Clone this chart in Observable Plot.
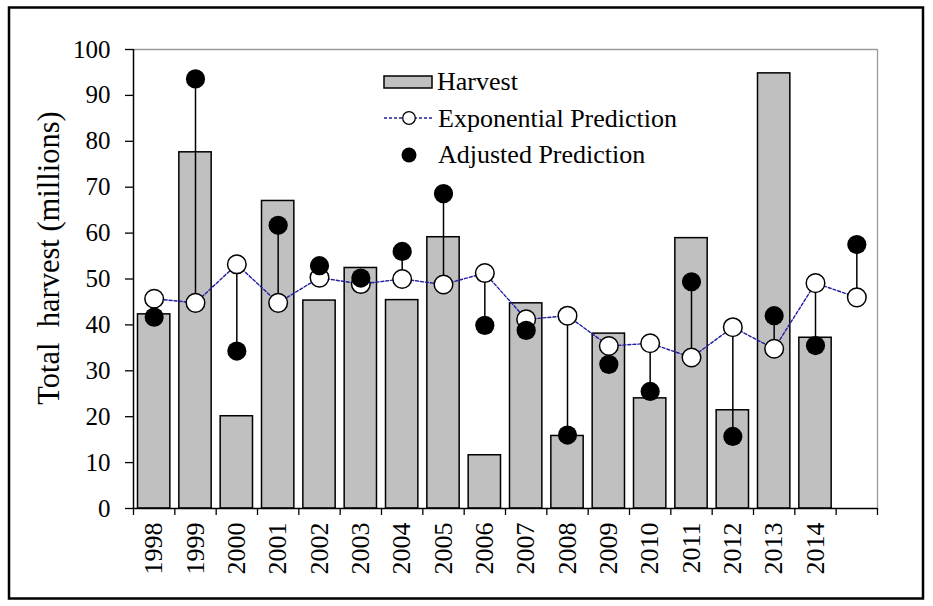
<!DOCTYPE html>
<html>
<head>
<meta charset="utf-8">
<script src="https://cdn.jsdelivr.net/npm/d3@7"></script>
<script src="https://cdn.jsdelivr.net/npm/@observablehq/plot@0.6"></script>
<style>
  html, body { margin: 0; padding: 0; background: white; }
</style>
</head>
<body>
<div id="chart"></div>
<script>
// ---- data ----
const years = [1998, 1999, 2000, 2001, 2002, 2003, 2004, 2005, 2006, 2007, 2008, 2009, 2010, 2011, 2012, 2013, 2014, 2015];
const harvest = [42.3, 77.6, 20.1, 67.0, 45.3, 52.4, 45.4, 59.1, 11.6, 44.7, 15.8, 38.1, 24.0, 58.9, 21.4, 94.8, 37.2, null];
const expPrediction = [45.7, 44.8, 53.2, 44.8, 50.3, 48.9, 50.0, 48.8, 51.3, 41.2, 42.0, 35.4, 36.0, 32.9, 39.5, 34.8, 49.1, 46.0];
const adjPrediction = [41.7, 93.6, 34.3, 61.7, 52.9, 50.2, 56.0, 68.6, 39.9, 38.8, 16.0, 31.4, 25.5, 49.4, 15.7, 42.0, 35.5, 57.5];
const xLabels = [1998, 1999, 2000, 2001, 2002, 2003, 2004, 2005, 2006, 2007, 2008, 2009, 2010, 2011, 2012, 2013, 2014];
const yTicks = [0, 10, 20, 30, 40, 50, 60, 70, 80, 90, 100];
const yTitle = "Total  harvest (millions)";
const legendLabels = ["Harvest", "Exponential Prediction", "Adjusted Prediction"];

const rows = years.map((year, i) => ({year, harvest: harvest[i], exp: expPrediction[i], adj: adjPrediction[i]}));
const bounds = [...years.map(y => y - 0.5), years[years.length - 1] + 0.5];
const xMin = bounds[0], xMax = bounds[bounds.length - 1];

const FONT = "Liberation Serif, Times New Roman, serif";
const NAVY = "#1f1fa0";

const chart = Plot.plot({
  width: 933,
  height: 606,
  marginLeft: 133,
  marginRight: 56,
  marginTop: 49,
  marginBottom: 98,
  style: {background: "white", fontFamily: FONT, color: "black", overflow: "visible"},
  x: {type: "linear", domain: [xMin, xMax], axis: null},
  y: {domain: [0, 100], axis: null},
  marks: [
    // frame: gray top and right
    Plot.ruleY([100], {x1: xMin, x2: xMax, stroke: "#9a9a9a", strokeWidth: 1.3}),
    Plot.ruleX([xMax], {y1: 0, y2: 100, stroke: "#9a9a9a", strokeWidth: 1.3}),
    // bars
    Plot.rectY(rows.filter(d => d.harvest != null), {
      x1: d => d.year - 0.5, x2: d => d.year + 0.5, y: "harvest",
      insetLeft: 4.5, insetRight: 4.5,
      fill: "#c0c0c0", stroke: "black", strokeWidth: 1.5
    }),
    // axes lines
    Plot.ruleX([xMin], {y1: 0, y2: 100, stroke: "black", strokeWidth: 1.5}),
    Plot.ruleY([0], {x1: xMin, x2: xMax, stroke: "black", strokeWidth: 1.5}),
    // y axis
    Plot.axisY({ticks: yTicks, tickSize: 8, tickPadding: 15, fontSize: 25, label: null, stroke: "black", strokeWidth: 1.3, tickFormat: d => String(d)}),
    // x boundary ticks
    Plot.axisX({ticks: bounds, tickSize: 7, tickFormat: () => "", label: null, strokeWidth: 1.3}),
    // x labels
    Plot.axisX({ticks: xLabels, tickSize: 0, tickPadding: 14, tickRotate: -90, fontSize: 26, label: null, tickFormat: d => String(d)}),
    // y title
    Plot.text([yTitle], {frameAnchor: "left", textAnchor: "middle", lineAnchor: "middle", rotate: -90, dx: -84, dy: -21, fontSize: 30.5, fill: "black"}),
    // connectors
    Plot.ruleX(rows, {x: "year", y1: "exp", y2: "adj", stroke: "black", strokeWidth: 1.5}),
    // exponential prediction line
    Plot.line(rows, {x: "year", y: "exp", stroke: NAVY, strokeWidth: 1.4, strokeDasharray: "3,2"}),
    Plot.dot(rows, {x: "year", y: "exp", r: 9.3, fill: "white", stroke: "black", strokeWidth: 1.5}),
    Plot.dot(rows, {x: "year", y: "adj", r: 9.6, fill: "black"})
  ]
});

// legend inside the plot area
const svg = d3.select(chart);
const lg = svg.append("g").attr("font-family", FONT).attr("font-size", 26).attr("fill", "black").attr("text-anchor", "start");
lg.append("rect").attr("x", 384).attr("y", 76).attr("width", 48).attr("height", 12)
  .attr("fill", "#c0c0c0").attr("stroke", "black").attr("stroke-width", 1.5);
lg.append("text").attr("x", 437).attr("y", 90).text(legendLabels[0]);
lg.append("line").attr("x1", 384).attr("x2", 432).attr("y1", 118).attr("y2", 118)
  .attr("stroke", NAVY).attr("stroke-width", 1.4).attr("stroke-dasharray", "3,2");
lg.append("circle").attr("cx", 409).attr("cy", 118).attr("r", 6.3)
  .attr("fill", "white").attr("stroke", "black").attr("stroke-width", 1.3);
lg.append("text").attr("x", 438).attr("y", 127).text(legendLabels[1]);
lg.append("circle").attr("cx", 409).attr("cy", 155).attr("r", 7.5).attr("fill", "black");
lg.append("text").attr("x", 438).attr("y", 163).text(legendLabels[2]);

// outer border
svg.append("rect").attr("x", 9).attr("y", 7.5).attr("width", 914).attr("height", 591)
  .attr("fill", "none").attr("stroke", "black").attr("stroke-width", 2.5);

document.getElementById("chart").appendChild(chart);
</script>
</body>
</html>
